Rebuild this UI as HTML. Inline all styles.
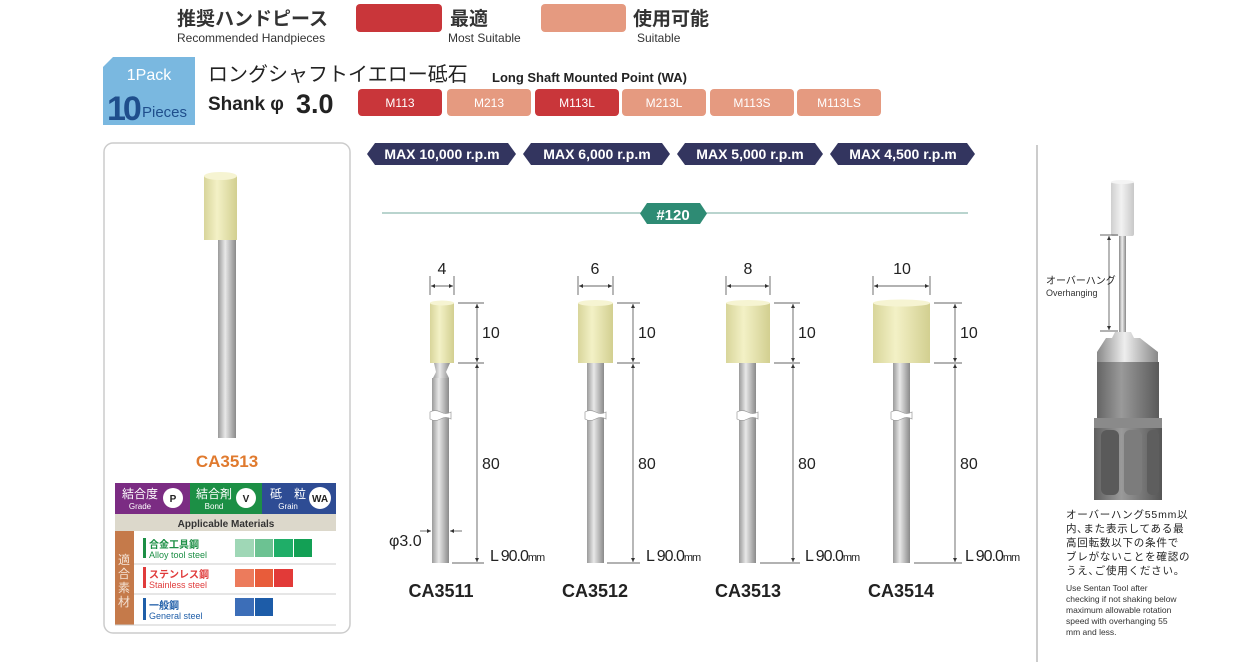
<!DOCTYPE html>
<html><head><meta charset="utf-8"><style>
html,body{margin:0;padding:0;background:#fff;width:1243px;height:667px;overflow:hidden}
svg{display:block}
text{font-family:"Liberation Sans","Noto Sans CJK JP",sans-serif}
</style></head><body>
<svg width="1243" height="667" viewBox="0 0 1243 667" xmlns="http://www.w3.org/2000/svg">
<defs>
<linearGradient id="sh" x1="0" x2="1"><stop offset="0" stop-color="#9a9a9a"/><stop offset=".4" stop-color="#e8e8e8"/><stop offset="1" stop-color="#8a8a8a"/></linearGradient>
<linearGradient id="yl" x1="0" x2="1"><stop offset="0" stop-color="#d8d59a"/><stop offset=".4" stop-color="#f3f1c6"/><stop offset="1" stop-color="#d2cf90"/></linearGradient>
<linearGradient id="gr" x1="0" x2="1"><stop offset="0" stop-color="#5e5e5e"/><stop offset=".4" stop-color="#9a9a9a"/><stop offset="1" stop-color="#555"/></linearGradient>
<linearGradient id="cl" x1="0" x2="1"><stop offset="0" stop-color="#888"/><stop offset=".45" stop-color="#eee"/><stop offset="1" stop-color="#888"/></linearGradient>
<linearGradient id="wc" x1="0" x2="1"><stop offset="0" stop-color="#cfcfcf"/><stop offset=".45" stop-color="#f2f2f2"/><stop offset="1" stop-color="#c8c8c8"/></linearGradient>
<marker id="a" viewBox="0 0 6 6" refX="6" refY="3" markerWidth="6" markerHeight="6" orient="auto-start-reverse"><path d="M0,0L6,3L0,6z" fill="#333"/></marker>
</defs>

<!-- legend -->
<text x="177" y="25" font-size="19" font-weight="bold" fill="#333">推奨ハンドピース</text>
<text x="177" y="42" font-size="12" fill="#333">Recommended Handpieces</text>
<rect x="356" y="4" width="86" height="28" rx="4" fill="#c9363a"/>
<text x="450" y="25" font-size="19" font-weight="bold" fill="#333">最適</text>
<text x="448" y="42" font-size="12" fill="#333">Most Suitable</text>
<rect x="541" y="4" width="85" height="28" rx="4" fill="#e59a80"/>
<text x="633" y="25" font-size="19" font-weight="bold" fill="#333">使用可能</text>
<text x="637" y="42" font-size="12" fill="#333">Suitable</text>

<!-- pack badge -->
<path d="M113,57H195V125H103V67Z" fill="#7ab8e0"/>
<text x="149" y="80" font-size="16" fill="#fff" text-anchor="middle">1Pack</text>
<text x="107" y="120" font-size="34" font-weight="bold" fill="#1f4e8c" letter-spacing="-3">10</text>
<text x="142" y="117" font-size="15" fill="#1f4e8c">Pieces</text>

<text x="208" y="81" font-size="20" fill="#222">ロングシャフトイエロー砥石</text>
<text x="492" y="82" font-size="13" font-weight="bold" fill="#222">Long Shaft Mounted Point (WA)</text>
<text x="208" y="110" font-size="19" font-weight="bold" fill="#222">Shank φ</text>
<text x="296" y="113" font-size="27" font-weight="bold" fill="#222">3.0</text>

<g font-size="12" fill="#fff" text-anchor="middle">
<rect x="358" y="89" width="84" height="27" rx="4" fill="#c9363a"/><text x="400" y="107">M113</text>
<rect x="447" y="89" width="84" height="27" rx="4" fill="#e59a80"/><text x="489" y="107">M213</text>
<rect x="535" y="89" width="84" height="27" rx="4" fill="#c9363a"/><text x="577" y="107">M113L</text>
<rect x="622" y="89" width="84" height="27" rx="4" fill="#e59a80"/><text x="664" y="107">M213L</text>
<rect x="710" y="89" width="84" height="27" rx="4" fill="#e59a80"/><text x="752" y="107">M113S</text>
<rect x="797" y="89" width="84" height="27" rx="4" fill="#e59a80"/><text x="839" y="107">M113LS</text>
</g>

<!-- left card -->
<rect x="104" y="143" width="246" height="490" rx="9" fill="#fff" stroke="#ccc" stroke-width="1.5"/>
<rect x="204" y="176" width="33" height="64" fill="url(#yl)"/>
<ellipse cx="220.5" cy="176" rx="16.5" ry="4" fill="#f6f4d2"/>
<rect x="218" y="240" width="18" height="198" fill="url(#sh)"/>
<text x="227" y="467" font-size="17" font-weight="bold" fill="#e07a2e" text-anchor="middle">CA3513</text>

<rect x="115" y="483" width="75" height="31" fill="#7b2c83"/>
<rect x="190" y="483" width="72" height="31" fill="#1c8f45"/>
<rect x="262" y="483" width="74" height="31" fill="#2e4c94"/>
<g fill="#fff" text-anchor="middle">
<text x="140" y="498" font-size="12">結合度</text><text x="140" y="509" font-size="8">Grade</text>
<text x="214" y="498" font-size="12">結合剤</text><text x="214" y="509" font-size="8">Bond</text>
<text x="288" y="498" font-size="12">砥　粒</text><text x="288" y="509" font-size="8">Grain</text>
<circle cx="173" cy="498" r="10"/><circle cx="246" cy="498" r="10"/><circle cx="320" cy="498" r="11"/>
</g>
<g font-size="10" font-weight="bold" fill="#222" text-anchor="middle">
<text x="173" y="502">P</text><text x="246" y="502">V</text><text x="320" y="502">WA</text></g>
<rect x="115" y="514" width="221" height="17" fill="#dcd8cb"/>
<text x="226" y="527" font-size="10" font-weight="bold" fill="#333" text-anchor="middle">Applicable Materials</text>
<rect x="115" y="531" width="19" height="94" fill="#c57a4a"/>
<g fill="#f4e2d4" font-size="12" text-anchor="middle"><text x="124" y="564">適</text><text x="124" y="578">合</text><text x="124" y="592">素</text><text x="124" y="606">材</text></g>
<line x1="134" y1="564" x2="336" y2="564" stroke="#ccc"/>
<line x1="134" y1="594" x2="336" y2="594" stroke="#ccc"/>
<line x1="115" y1="625" x2="336" y2="625" stroke="#ccc"/>
<rect x="143" y="538" width="3" height="20" fill="#1c8f45"/>
<text x="149" y="548" font-size="10" font-weight="bold" fill="#1c8f45">合金工具鋼</text>
<text x="149" y="558" font-size="9" fill="#1c8f45">Alloy tool steel</text>
<rect x="235" y="539" width="19" height="18" fill="#9fd7b6"/><rect x="255" y="539" width="18" height="18" fill="#6cc292"/><rect x="274" y="539" width="19" height="18" fill="#1fae68"/><rect x="294" y="539" width="18" height="18" fill="#13a055"/>
<rect x="143" y="567" width="3" height="21" fill="#e03c3c"/>
<text x="149" y="578" font-size="10" font-weight="bold" fill="#e03c3c">ステンレス鋼</text>
<text x="149" y="588" font-size="9" fill="#e03c3c">Stainless steel</text>
<rect x="235" y="569" width="19" height="18" fill="#ec7b5c"/><rect x="255" y="569" width="18" height="18" fill="#e85c3a"/><rect x="274" y="569" width="19" height="18" fill="#e23a38"/>
<rect x="143" y="598" width="3" height="22" fill="#1f5ea8"/>
<text x="149" y="609" font-size="10" font-weight="bold" fill="#1f5ea8">一般鋼</text>
<text x="149" y="619" font-size="9" fill="#1f5ea8">General steel</text>
<rect x="235" y="598" width="19" height="18" fill="#3c6eb8"/><rect x="255" y="598" width="18" height="18" fill="#1d5ca8"/>

<!-- speed banners -->
<g fill="#33355f">
<path d="M375,143H508L516,154L508,165H375L367,154Z"/>
<path d="M531,143H662L670,154L662,165H531L523,154Z"/>
<path d="M685,143H815L823,154L815,165H685L677,154Z"/>
<path d="M838,143H967L975,154L967,165H838L830,154Z"/>
</g>
<g fill="#fff" font-size="14" font-weight="bold" text-anchor="middle">
<text x="442" y="159">MAX 10,000 r.p.m</text>
<text x="597" y="159">MAX 6,000 r.p.m</text>
<text x="750" y="159">MAX 5,000 r.p.m</text>
<text x="903" y="159">MAX 4,500 r.p.m</text>
</g>
<line x1="382" y1="213" x2="968" y2="213" stroke="#8fbab0" stroke-width="1.2"/>
<path d="M647,203H700L707,213.5L700,224H647L640,213.5Z" fill="#2e8b74"/>
<text x="673" y="220" font-size="15" font-weight="bold" fill="#fff" text-anchor="middle">#120</text>

<!-- tools -->
<g stroke="#333" stroke-width="0.7" fill="none">
<rect x="430" y="303" width="24" height="60" fill="url(#yl)" stroke="none"/>
<path d="M434,363H450L446,372L449,378H433L436,372Z" fill="url(#sh)" stroke="none"/>
<rect x="432" y="378" width="17" height="185" fill="url(#sh)" stroke="none"/>
<line x1="430" y1="276" x2="430" y2="295"/><line x1="454" y1="276" x2="454" y2="295"/>
<line x1="431" y1="286" x2="453" y2="286" marker-start="url(#a)" marker-end="url(#a)"/>
<line x1="458" y1="303" x2="484" y2="303"/><line x1="458" y1="363" x2="484" y2="363"/>
<line x1="452" y1="563" x2="484" y2="563"/>
<line x1="477" y1="304" x2="477" y2="362" marker-start="url(#a)" marker-end="url(#a)"/>
<line x1="477" y1="364" x2="477" y2="562" marker-start="url(#a)" marker-end="url(#a)"/>
<line x1="420" y1="531" x2="431" y2="531" marker-end="url(#a)"/><line x1="462" y1="531" x2="450" y2="531" marker-end="url(#a)"/>

<rect x="578" y="303" width="35" height="60" fill="url(#yl)" stroke="none"/>
<rect x="587" y="363" width="17" height="200" fill="url(#sh)" stroke="none"/>
<line x1="578" y1="276" x2="578" y2="295"/><line x1="613" y1="276" x2="613" y2="295"/>
<line x1="579" y1="286" x2="612" y2="286" marker-start="url(#a)" marker-end="url(#a)"/>
<line x1="617" y1="303" x2="640" y2="303"/><line x1="617" y1="363" x2="640" y2="363"/>
<line x1="607" y1="563" x2="640" y2="563"/>
<line x1="633" y1="304" x2="633" y2="362" marker-start="url(#a)" marker-end="url(#a)"/>
<line x1="633" y1="364" x2="633" y2="562" marker-start="url(#a)" marker-end="url(#a)"/>

<rect x="726" y="303" width="44" height="60" fill="url(#yl)" stroke="none"/>
<rect x="739" y="363" width="17" height="200" fill="url(#sh)" stroke="none"/>
<line x1="726" y1="276" x2="726" y2="295"/><line x1="770" y1="276" x2="770" y2="295"/>
<line x1="727" y1="286" x2="769" y2="286" marker-start="url(#a)" marker-end="url(#a)"/>
<line x1="774" y1="303" x2="800" y2="303"/><line x1="774" y1="363" x2="800" y2="363"/>
<line x1="760" y1="563" x2="800" y2="563"/>
<line x1="793" y1="304" x2="793" y2="362" marker-start="url(#a)" marker-end="url(#a)"/>
<line x1="793" y1="364" x2="793" y2="562" marker-start="url(#a)" marker-end="url(#a)"/>

<rect x="873" y="303" width="57" height="60" fill="url(#yl)" stroke="none"/>
<rect x="893" y="363" width="17" height="200" fill="url(#sh)" stroke="none"/>
<line x1="873" y1="276" x2="873" y2="295"/><line x1="930" y1="276" x2="930" y2="295"/>
<line x1="874" y1="286" x2="929" y2="286" marker-start="url(#a)" marker-end="url(#a)"/>
<line x1="934" y1="303" x2="962" y2="303"/><line x1="934" y1="363" x2="962" y2="363"/>
<line x1="914" y1="563" x2="962" y2="563"/>
<line x1="955" y1="304" x2="955" y2="362" marker-start="url(#a)" marker-end="url(#a)"/>
<line x1="955" y1="364" x2="955" y2="562" marker-start="url(#a)" marker-end="url(#a)"/>
</g>
<ellipse cx="442" cy="303" rx="12" ry="2.5" fill="#f6f4d2"/>
<ellipse cx="595.5" cy="303" rx="17.5" ry="3" fill="#f6f4d2"/>
<ellipse cx="748" cy="303" rx="22" ry="3" fill="#f6f4d2"/>
<ellipse cx="901.5" cy="303" rx="28.5" ry="3.5" fill="#f6f4d2"/>
<!-- breaks: white wavy gaps across shanks -->
<g fill="#fff" stroke="#999" stroke-width="0.7">
<path d="M430,412q5,-3 10.5,0t10.5,0v7q-5,-3 -10.5,0t-10.5,0z"/>
<path d="M585,412q5,-3 10.5,0t10.5,0v7q-5,-3 -10.5,0t-10.5,0z"/>
<path d="M737,412q5,-3 10.5,0t10.5,0v7q-5,-3 -10.5,0t-10.5,0z"/>
<path d="M891,412q5,-3 10.5,0t10.5,0v7q-5,-3 -10.5,0t-10.5,0z"/>
</g>
<g font-size="16" fill="#222">
<text x="442" y="274" text-anchor="middle">4</text>
<text x="595" y="274" text-anchor="middle">6</text>
<text x="748" y="274" text-anchor="middle">8</text>
<text x="902" y="274" text-anchor="middle">10</text>
<text x="482" y="338">10</text><text x="638" y="338">10</text><text x="798" y="338">10</text><text x="960" y="338">10</text>
<text x="482" y="469">80</text><text x="638" y="469">80</text><text x="798" y="469">80</text><text x="960" y="469">80</text>
<text x="490" y="561" letter-spacing="-1">L 90.0<tspan font-size="11">mm</tspan></text>
<text x="646" y="561" letter-spacing="-1">L 90.0<tspan font-size="11">mm</tspan></text>
<text x="805" y="561" letter-spacing="-1">L 90.0<tspan font-size="11">mm</tspan></text>
<text x="965" y="561" letter-spacing="-1">L 90.0<tspan font-size="11">mm</tspan></text>
<text x="389" y="546">φ3.0</text>
</g>
<g font-size="18" font-weight="bold" fill="#222" text-anchor="middle">
<text x="441" y="597">CA3511</text><text x="595" y="597">CA3512</text><text x="748" y="597">CA3513</text><text x="901" y="597">CA3514</text>
</g>

<!-- right -->
<line x1="1037" y1="145" x2="1037" y2="662" stroke="#999" stroke-width="1"/>
<rect x="1111" y="182" width="23" height="54" rx="2" fill="url(#wc)"/>
<ellipse cx="1122.5" cy="182" rx="11.5" ry="2" fill="#f4f4f4"/>
<rect x="1119" y="236" width="7" height="96" fill="url(#cl)"/>
<line x1="1100" y1="235" x2="1118" y2="235" stroke="#333" stroke-width="0.7"/>
<line x1="1100" y1="331" x2="1118" y2="331" stroke="#333" stroke-width="0.7"/>
<line x1="1109" y1="236" x2="1109" y2="330" stroke="#333" stroke-width="0.7" marker-start="url(#a)" marker-end="url(#a)"/>
<text x="1046" y="284" font-size="10" fill="#222">オーバーハング</text>
<text x="1046" y="296" font-size="9" fill="#333">Overhanging</text>
<path d="M1115,332H1131L1134,338H1140L1158,352V362H1097V352L1106,338H1112Z" fill="url(#cl)"/>
<path d="M1097,362H1159V418L1162,422V500H1094V422L1097,418Z" fill="url(#gr)"/>
<rect x="1094" y="418" width="68" height="10" fill="#8a8a8a"/>
<rect x="1101" y="430" width="18" height="65" rx="6" fill="#5a5a5a"/>
<rect x="1124" y="430" width="18" height="65" rx="6" fill="#7c7c7c"/>
<rect x="1147" y="430" width="12" height="65" rx="5" fill="#5e5e5e"/>
<g font-size="10.5" fill="#222" letter-spacing="0.8">
<text x="1066" y="518">オーバーハング55mm以</text>
<text x="1066" y="532">内､また表示してある最</text>
<text x="1066" y="546">高回転数以下の条件で</text>
<text x="1066" y="560">ブレがないことを確認の</text>
<text x="1066" y="574">うえ､ご使用ください。</text>
</g>
<g font-size="8.5" fill="#333">
<text x="1066" y="591">Use Sentan Tool after</text>
<text x="1066" y="602">checking if not shaking below</text>
<text x="1066" y="613">maximum allowable rotation</text>
<text x="1066" y="624">speed with overhanging 55</text>
<text x="1066" y="635">mm and less.</text>
</g>
</svg>
</body></html>
